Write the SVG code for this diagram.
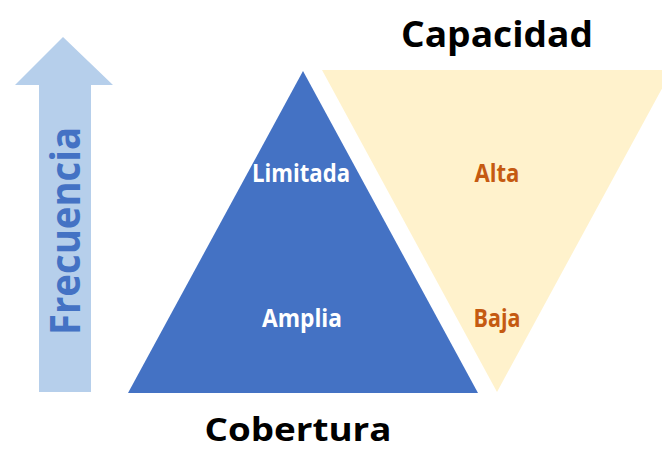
<svg xmlns="http://www.w3.org/2000/svg" width="662" height="450" viewBox="0 0 662 450">
  <style>
    .t { font-family: "Open Sans", "Liberation Sans", sans-serif; font-weight: bold; text-anchor: middle; }
    .title { font-size: 36px; fill: #000000; }
    .wlab { font-size: 25px; fill: #FFFFFF; }
    .olab { font-size: 25px; fill: #C55A11; }
    .freq { font-size: 42px; fill: #4472C4; }
  </style>
  <rect width="662" height="450" fill="#FFFFFF"/>
  <g id="frecuencia-arrow">
    <polygon points="63,37 113,85 91,85 91,392 39,392 39,85 15,85" fill="#B6CFEB"/>
    <text class="t freq" transform="translate(80,231) rotate(-90)" textLength="208" lengthAdjust="spacingAndGlyphs">Frecuencia</text>
  </g>
  <g id="capacidad">
    <polygon points="322,70 672,70 497,392" fill="#FFF2CC"/>
    <text class="t olab" x="497" y="182" textLength="45" lengthAdjust="spacingAndGlyphs">Alta</text>
    <text class="t olab" x="497" y="327" textLength="47" lengthAdjust="spacingAndGlyphs">Baja</text>
    <text class="t title" x="497" y="47" textLength="192" lengthAdjust="spacingAndGlyphs">Capacidad</text>
  </g>
  <g id="cobertura">
    <polygon points="303,71 478,393 128,393" fill="#4472C4"/>
    <text class="t wlab" x="301" y="182" textLength="98" lengthAdjust="spacingAndGlyphs">Limitada</text>
    <text class="t wlab" x="302" y="327" textLength="80" lengthAdjust="spacingAndGlyphs">Amplia</text>
    <text class="t title" x="298" y="441" style="font-size:32px" textLength="187" lengthAdjust="spacingAndGlyphs">Cobertura</text>
  </g>
  <g id="connectors"/>
</svg>
